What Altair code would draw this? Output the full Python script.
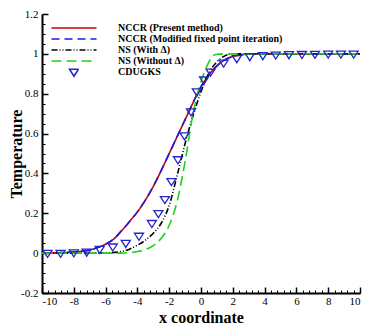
import altair as alt
import pandas as pd

series_names = ["NCCR (Present method)", "NCCR (Modified fixed point iteration)",
                "NS (With Δ)", "NS (Without Δ)", "CDUGKS"]
series_colors = ["#cc0000", "#1a1ae6", "#000000", "#1ed21e", "#2424c8"]
series_dashes = [[1, 0], [8, 5], [6, 2, 1, 2, 1, 2], [10, 5], [1, 0]]

nccr_x = [-10, -9, -8, -7, -6.5, -6, -5.5, -5, -4.5, -4, -3.5, -3, -2.5, -2, -1.5,
          -1, -0.5, 0, 0.5, 1, 1.5, 2, 2.5, 3, 4, 5, 10]
nccr_y = [0.0, 0.002, 0.006, 0.016, 0.028, 0.045, 0.07, 0.112, 0.158, 0.207, 0.266,
          0.335, 0.415, 0.5, 0.585, 0.67, 0.755, 0.835, 0.895, 0.94, 0.97, 0.987,
          0.995, 0.999, 1.0, 1.0, 1.0]
nccr_mod_x = nccr_x
nccr_mod_y = nccr_y

ns_with_x = [-10, -6, -5, -4.5, -4, -3.5, -3, -2.5, -2, -1.5, -1, -0.5, 0, 0.5, 1,
             1.5, 2, 3, 10]
ns_with_y = [0.0, 0.001, 0.008, 0.02, 0.04, 0.065, 0.1, 0.15, 0.24, 0.39, 0.55,
             0.69, 0.81, 0.905, 0.96, 0.99, 1.0, 1.0, 1.0]

ns_without_x = [-10, -5, -4.5, -4, -3.5, -3, -2.5, -2, -1.5, -1, -0.5, -0.25, 0,
                0.25, 0.5, 0.75, 1, 1.5, 3, 10]
ns_without_y = [0.0, 0.0, 0.003, 0.008, 0.018, 0.038, 0.075, 0.14, 0.26, 0.46, 0.7,
                0.79, 0.86, 0.915, 0.96, 0.99, 0.998, 1.0, 1.0, 1.0]

cdugks_x = [-9.65, -8.83, -8.0, -7.19, -6.37, -5.55, -4.73, -3.9, -3.09, -2.68,
            -2.27, -1.86, -1.45, -1.04, -0.63, -0.26, 0.19, 0.6, 1.42, 2.25, 3.07,
            3.89, 4.7, 5.53, 6.35, 7.17, 8.0, 8.8, 9.6]
cdugks_y = [0.0, 0.0, 0.003, 0.006, 0.02, 0.032, 0.05, 0.086, 0.15, 0.2, 0.27, 0.36,
            0.47, 0.59, 0.71, 0.81, 0.87, 0.91, 0.955, 0.977, 0.987, 0.992, 0.995,
            0.997, 0.998, 0.999, 1.0, 1.0, 1.0]

x_major = [-10, -8, -6, -4, -2, 0, 2, 4, 6, 8, 10]
x_minor = [round(-10 + 0.4 * i, 1) for i in range(51)]
y_major = [-0.2, 0, 0.2, 0.4, 0.6, 0.8, 1, 1.2]
y_minor = [round(-0.2 + 0.05 * i, 2) for i in range(29)]

rows = []
for name, xs_, ys_ in [(series_names[0], nccr_x, nccr_y),
                       (series_names[1], nccr_mod_x, nccr_mod_y),
                       (series_names[2], ns_with_x, ns_with_y),
                       (series_names[3], ns_without_x, ns_without_y)]:
    for a, b in zip(xs_, ys_):
        rows.append({"x": a, "y": b, "series": name})
lines_df = pd.DataFrame(rows)
markers_df = pd.DataFrame({"x": cdugks_x, "y": cdugks_y, "series": "CDUGKS"})

line_path = "M-4.5,0H4.5"
tri_path = "M-0.9,-0.55L0.9,-0.55L0,0.85Z"
shapes = [line_path] * 4 + [tri_path]

color_scale = alt.Scale(domain=series_names, range=series_colors)
dash_scale = alt.Scale(domain=series_names, range=series_dashes)
shape_scale = alt.Scale(domain=series_names, range=shapes)
xsc = alt.Scale(domain=[-10, 10], nice=False, zero=False)
ysc = alt.Scale(domain=[-0.2, 1.2], nice=False, zero=False)

serif = "Liberation Serif"
legend = alt.Legend(title=None, orient="none", legendX=5, legendY=8,
                    symbolSize=100, symbolStrokeWidth=1.6, symbolOffset=21,
                    labelOffset=38, rowPadding=0, labelFont=serif,
                    labelFontWeight="bold", labelFontSize=10, labelLimit=400,
                    labelColor="black")

x_axis_major = alt.Axis(values=x_major, tickSize=alt.ExprRef("-6"), tickWidth=1.5,
                        labelPadding=8, labelExpr="toString(datum.value)",
                        title="x coordinate", titleBaseline="alphabetic", titleY=29,
                        orient="bottom")
y_axis_major = alt.Axis(values=y_major, tickSize=alt.ExprRef("-6"), tickWidth=1.5,
                        labelPadding=10,
                        labelExpr="toString(round(datum.value*10)/10)",
                        title="Temperature", titleX=-18, orient="left")
x_axis_minor = alt.Axis(values=x_minor, tickSize=alt.ExprRef("-3"), tickWidth=1,
                        labels=False, domain=False, title=None, orient="bottom")
y_axis_minor = alt.Axis(values=y_minor, tickSize=alt.ExprRef("-3"), tickWidth=1,
                        labels=False, domain=False, title=None, orient="left")

lines = alt.Chart(lines_df).mark_line(interpolate="monotone", strokeWidth=1.6).encode(
    x=alt.X("x:Q", scale=xsc, axis=x_axis_major),
    y=alt.Y("y:Q", scale=ysc, axis=y_axis_major),
    color=alt.Color("series:N", scale=color_scale, legend=legend),
    strokeDash=alt.StrokeDash("series:N", scale=dash_scale, legend=legend),
)

markers = alt.Chart(markers_df).mark_point(filled=False, strokeWidth=1.3, size=100,
                                            opacity=1).encode(
    x=alt.X("x:Q", scale=xsc, axis=x_axis_minor),
    y=alt.Y("y:Q", scale=ysc, axis=y_axis_minor),
    color=alt.Color("series:N", scale=color_scale, legend=legend),
    shape=alt.Shape("series:N", scale=shape_scale, legend=legend),
)

chart = alt.layer(lines, markers).resolve_axis(
    x="independent", y="independent"
).properties(
    width=318, height=279, autosize="none",
    padding={"left": 34, "top": 6, "right": 6, "bottom": 31},
).configure_view(strokeWidth=0).configure_axis(
    grid=False, domainColor="black", domainWidth=2, tickColor="black",
    labelFont=serif, labelFontSize=11, labelColor="black",
    titleFont=serif, titleFontSize=16, titleFontWeight="bold", titleColor="black",
)

chart.save("out.html", embed_options={"renderer": "svg", "actions": False})
